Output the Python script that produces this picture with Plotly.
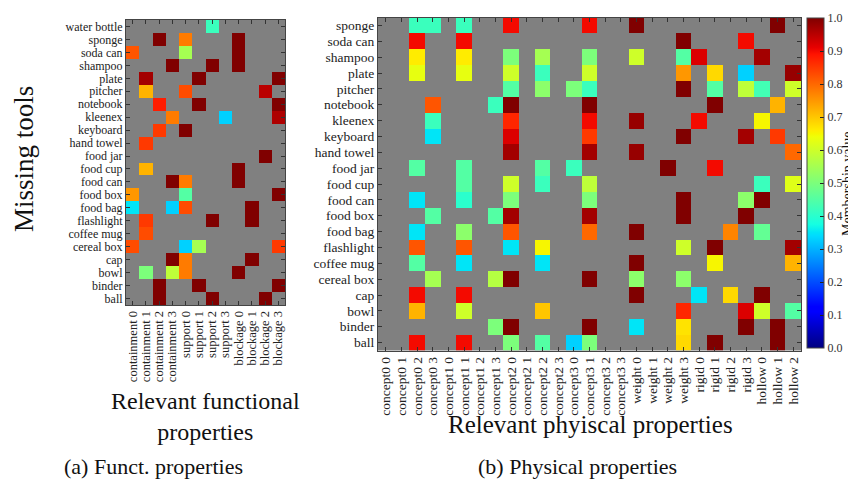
import numpy as np
import plotly.graph_objects as go

N = None

tools_func = ["water bottle", "sponge", "soda can", "shampoo", "plate", "pitcher",
              "notebook", "kleenex", "keyboard", "hand towel", "food jar", "food cup",
              "food can", "food box", "food bag", "flashlight", "coffee mug",
              "cereal box", "cap", "bowl", "binder", "ball"]
tools_phys = tools_func[1:]

func_props = ["containment 0", "containment 1", "containment 2", "containment 3",
              "support 0", "support 1", "support 2", "support 3",
              "blockage 0", "blockage 1", "blockage 2", "blockage 3"]

phys_props = ["concept0 0", "concept0 1", "concept0 2", "concept0 3",
              "concept1 0", "concept1 1", "concept1 2", "concept1 3",
              "concept2 0", "concept2 1", "concept2 2", "concept2 3",
              "concept3 0", "concept3 1", "concept3 2", "concept3 3",
              "weight 0", "weight 1", "weight 2", "weight 3",
              "rigid 0", "rigid 1", "rigid 2", "rigid 3",
              "hollow 0", "hollow 1", "hollow 2"]

# Functional membership values (rows = tools_func, columns = func_props)
func_values = [
    [N, N, N, N, N, N, 0.42, N, N, N, N, N],        # water bottle
    [N, N, 1.0, N, 0.78, N, N, N, 1.0, N, N, N],    # sponge
    [0.82, N, N, N, 0.55, N, N, N, 1.0, N, N, N],   # soda can
    [N, N, N, 1.0, N, N, 1.0, N, 1.0, N, N, N],     # shampoo
    [N, 0.97, N, N, N, 1.0, N, N, N, N, N, 1.0],    # plate
    [N, 0.72, N, N, 0.83, N, N, N, N, N, 0.95, N],  # pitcher
    [N, N, 0.88, N, N, 1.0, N, N, N, N, N, 1.0],    # notebook
    [N, N, N, 0.78, N, N, N, 0.33, N, N, N, 0.96],  # kleenex
    [N, N, 0.85, N, 1.0, N, N, N, N, N, N, N],      # keyboard
    [N, 0.85, N, N, N, N, N, N, N, N, N, N],        # hand towel
    [N, N, N, N, N, N, N, N, N, N, 1.0, N],         # food jar
    [N, 0.72, N, N, N, N, N, N, 1.0, N, N, N],      # food cup
    [N, N, N, 1.0, 0.78, N, N, N, 1.0, N, N, N],    # food can
    [0.75, N, N, N, 0.45, N, N, N, N, N, N, 1.0],   # food box
    [0.35, N, N, 0.33, 0.83, N, N, N, N, 1.0, N, N],  # food bag
    [N, 0.85, N, N, N, N, 1.0, N, N, 1.0, N, N],    # flashlight
    [N, 0.83, N, N, N, N, N, N, N, N, N, N],        # coffee mug
    [0.83, N, N, N, 0.33, 0.55, N, N, N, N, N, 0.85],  # cereal box
    [N, N, N, 1.0, 0.78, N, N, N, N, 1.0, N, N],    # cap
    [N, 0.5, N, 0.58, 0.78, N, N, N, 1.0, N, N, N],  # bowl
    [N, N, 1.0, N, N, 1.0, N, N, N, N, N, 1.0],     # binder
    [N, N, 1.0, N, N, N, 1.0, N, N, N, 1.0, N],     # ball
]

# Physical membership values (rows = tools_phys, columns = phys_props), sparse per row
phys_sparse = [
    {2: 0.42, 3: 0.42, 5: 0.42, 8: 0.9, 13: 0.9, 16: 1.0, 25: 1.0},                     # sponge
    {2: 0.9, 5: 0.9, 19: 1.0, 23: 0.9},                                                 # soda can
    {2: 0.66, 5: 0.66, 8: 0.5, 10: 0.55, 13: 0.5, 16: 0.6, 19: 0.45, 20: 0.92, 24: 0.97},  # shampoo
    {2: 0.63, 5: 0.63, 8: 0.6, 10: 0.42, 13: 0.6, 19: 0.75, 21: 0.68, 23: 0.33, 26: 0.98},  # plate
    {8: 0.45, 10: 0.52, 12: 0.5, 13: 0.42, 19: 1.0, 21: 0.45, 23: 0.58, 24: 0.43, 26: 0.6},  # pitcher
    {3: 0.82, 7: 0.42, 8: 1.0, 13: 1.0, 21: 1.0, 25: 0.72},                             # notebook
    {3: 0.42, 8: 0.87, 13: 0.9, 16: 0.98, 20: 0.9, 24: 0.65},                           # kleenex
    {3: 0.35, 8: 0.92, 13: 0.85, 19: 1.0, 23: 0.97, 25: 0.85},                          # keyboard
    {8: 0.97, 13: 0.97, 16: 0.98, 26: 0.8},                                             # hand towel
    {2: 0.45, 5: 0.45, 10: 0.45, 12: 0.42, 18: 1.0, 21: 0.9},                           # food jar
    {5: 0.45, 8: 0.6, 10: 0.42, 13: 0.58, 24: 0.42, 26: 0.62},                          # food cup
    {2: 0.35, 5: 0.4, 8: 0.5, 13: 0.5, 19: 1.0, 23: 0.52, 24: 1.0},                     # food can
    {3: 0.45, 7: 0.45, 8: 0.97, 13: 0.97, 19: 1.0, 23: 1.0},                            # food box
    {2: 0.35, 5: 0.52, 8: 0.82, 13: 0.8, 16: 1.0, 22: 0.77, 24: 0.47},                  # food bag
    {2: 0.82, 5: 0.82, 8: 0.35, 10: 0.65, 19: 0.6, 21: 1.0, 26: 0.97},                  # flashlight
    {2: 0.45, 5: 0.35, 10: 0.35, 16: 1.0, 21: 0.65, 26: 0.72},                          # coffee mug
    {3: 0.55, 7: 0.57, 8: 1.0, 13: 1.0, 16: 0.52, 19: 0.52},                            # cereal box
    {2: 0.9, 5: 0.9, 16: 1.0, 20: 0.35, 22: 0.68, 24: 1.0},                             # cap
    {2: 0.72, 5: 0.6, 10: 0.7, 19: 0.87, 23: 0.92, 24: 0.6, 26: 0.45},                  # bowl
    {7: 0.5, 8: 1.0, 13: 1.0, 16: 0.35, 19: 0.67, 23: 1.0, 25: 1.0},                    # binder
    {2: 0.9, 5: 0.9, 8: 0.5, 10: 0.45, 12: 0.33, 13: 0.5, 19: 0.68, 21: 1.0, 25: 1.0},  # ball
]
phys_values = [[row.get(j, None) for j in range(len(phys_props))] for row in phys_sparse]

colorbar_ticks = [0.0, 0.1, 0.2, 0.3, 0.4, 0.5, 0.6, 0.7, 0.8, 0.9, 1.0]

# matplotlib "jet" colormap
_r = [(0, 0), (0.35, 0), (0.66, 1), (0.89, 1), (1, 0.5)]
_g = [(0, 0), (0.125, 0), (0.375, 1), (0.64, 1), (0.91, 0), (1, 0)]
_b = [(0, 0.5), (0.11, 1), (0.34, 1), (0.65, 0), (1, 0)]
stops = sorted(set([p for p, _ in _r + _g + _b]))
def _interp(seg, x):
    return float(np.interp(x, [p for p, _ in seg], [v for _, v in seg]))
jet = [[s, "rgb(%d,%d,%d)" % (round(255 * _interp(_r, s)), round(255 * _interp(_g, s)),
                                round(255 * _interp(_b, s)))] for s in stops]

FONT = "Liberation Serif"
GRAY = "#808080"
W, H = 856, 481

fig = go.Figure()
fig.add_trace(go.Heatmap(
    z=func_values, x=func_props, y=tools_func, colorscale=jet, zmin=0, zmax=1,
    showscale=False, xaxis="x", yaxis="y", hoverongaps=False))
fig.add_trace(go.Heatmap(
    z=phys_values, x=phys_props, y=tools_phys, colorscale=jet, zmin=0, zmax=1,
    xaxis="x2", yaxis="y2", hoverongaps=False,
    colorbar=dict(x=799 / W, xanchor="left", xpad=0, ypad=0, thickness=17,
                  len=(339.5 - 10) / H, lenmode="fraction", y=1 - 10 / H, yanchor="top",
                  tickmode="array", tickvals=colorbar_ticks,
                  ticktext=["%.1f" % t for t in colorbar_ticks],
                  ticks="inside", ticklen=4, tickcolor="#222",
                  outlinecolor="#444", outlinewidth=1,
                  tickfont=dict(family=FONT, size=12, color="#333"))))

def axis_common(size):
    return dict(showgrid=False, zeroline=False, showline=True, linecolor="#444",
                linewidth=1, mirror="ticks", ticks="inside", ticklen=4,
                tickcolor="#333", tickfont=dict(family=FONT, size=size, color="#222"))

fig.update_layout(
    width=W, height=H, margin=dict(l=0, r=0, t=0, b=0),
    paper_bgcolor="white", plot_bgcolor=GRAY, showlegend=False,
    xaxis=dict(domain=[118 / W, 277 / W], tickangle=-90, anchor="y",
               tickmode="array", tickvals=func_props, ticktext=func_props,
               **axis_common(12.5)),
    yaxis=dict(domain=[1 - 297 / H, 1 - 12 / H], autorange="reversed", anchor="x",
               tickmode="array", tickvals=tools_func, ticktext=tools_func,
               **axis_common(12)),
    xaxis2=dict(domain=[370 / W, 793 / W], tickangle=-90, anchor="y2",
                tickmode="array", tickvals=phys_props, ticktext=phys_props,
                **axis_common(13.5)),
    yaxis2=dict(domain=[1 - 342.5 / H, 1 - 9.5 / H], autorange="reversed", anchor="x2",
                tickmode="array", tickvals=tools_phys, ticktext=tools_phys,
                **axis_common(13.5)),
)

ann_font = dict(family=FONT, color="#111")
def note(text, x, y, size, angle=0):
    fig.add_annotation(text=text, x=x / W, y=1 - y / H, xref="paper", yref="paper",
                       xanchor="center", yanchor="middle", showarrow=False,
                       textangle=angle, borderpad=0,
                       font=dict(size=size, **ann_font))

note("Missing tools", 16, 151, 27, -90)
note("Relevant functional<br>properties", 197, 408, 24)
note("Relevant phyiscal properties", 582, 416, 25)
note("(a) Funct. properties", 145, 458, 22)
note("(b) Physical properties", 569, 458, 22)
note("Membership value", 839, 176, 14, -90)

fig.write_html("out.html")
